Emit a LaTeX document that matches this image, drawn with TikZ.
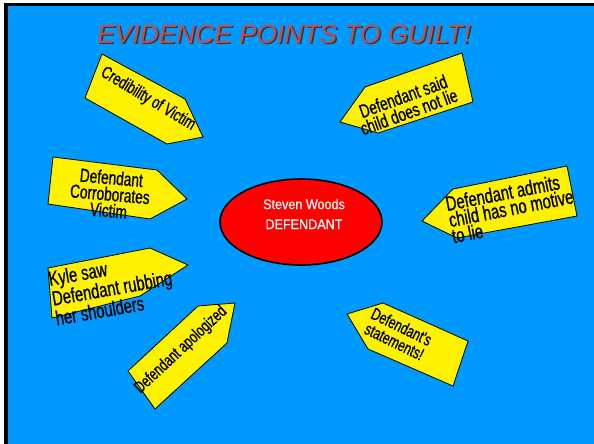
\documentclass[tikz,border=0pt]{standalone}
\usepackage{fontspec}
\setmainfont{Liberation Sans}
\newfontfamily\narrowfont[FakeStretch=0.72,FakeBold=0.8]{Liberation Sans}
\newfontfamily\ovalfont[FakeStretch=0.9,FakeBold=0.5]{Liberation Sans}
\definecolor{slideblue}{RGB}{0,153,255}
\definecolor{titlered}{RGB}{192,80,77}
\tikzset{pointer/.style={fill=yellow,draw=black,line width=0.8pt,line join=miter},
  tag/.style={font=\narrowfont\fontsize{#1}{16.5}\selectfont,inner sep=0pt,align=center},
  tag/.default=19,
  tagleft/.style={tag=#1,align=left},
  tagleft/.default=20.5,
  headline/.style={font=\itshape\fontsize{26.3}{30}\selectfont,inner sep=0pt}}

\begin{document}
\begin{tikzpicture}[x=1pt,y=-1pt]
  \useasboundingbox (0,0) rectangle (594,444);
  \fill[white] (0,0) rectangle (594,444);
  \fill[slideblue] (4,3) rectangle (594,444);
  \draw[black,line width=4pt] (6,444) -- (6,4.5);
  \draw[black,line width=3pt] (4,4.5) -- (594,4.5);

  % title with its shadow
  \node[headline,text=black!80] (shadow) at (285.5,35.5) {EVIDENCE POINTS TO GUILT!};
  \node[headline,text=titlered] (title) at (284,34) {EVIDENCE POINTS TO GUILT!};

  % the defendant
  \draw[fill=red,draw=black,line width=1.6pt] (301,222) ellipse (81 and 43);
  \node[font=\ovalfont\fontsize{14}{20}\selectfont,text=white,align=center,inner sep=0pt] (defendant) at (304,214) {Steven Woods\\DEFENDANT};

  % the pointers
  \draw[pointer] (102,54) -- (185,99) -- (203,137) -- (167,144) -- (85,98) -- cycle;
  \node[tag=17.5,rotate=-31] (credibility) at (148,99) {Credibility of Victim};

  \draw[pointer] (462,53) -- (473,102) -- (378,133) -- (340,122) -- (365,87) -- cycle;
  \node[tag,rotate=20] (childlie) at (406,104) {Defendant said\\child does not lie};

  \draw[pointer] (53,157) -- (157,170) -- (187,199) -- (150,219) -- (48,204) -- cycle;
  \node[tag,rotate=-5] (corroborates) at (110,194) {Defendant\\Corroborates\\Victim};

  \draw[pointer] (48,268) -- (150,248) -- (188,265) -- (140,296) -- (52,318) -- cycle;
  \node[tagleft,rotate=10] (kyle) at (112,288) {Kyle saw\\Defendant rubbing\\her shoulders};

  \draw[pointer] (567,166) -- (577,216) -- (457,238) -- (422,221) -- (453,189) -- cycle;
  \node[tagleft,rotate=11] (motive) at (511,208) {Defendant admits\\child has no motive\\to lie};

  \draw[pointer] (235,303) -- (227,343) -- (155,409) -- (128,371) -- (198,306) -- cycle;
  \node[tag=17,rotate=43] (apologized) at (181,350) {Defendant apologized};

  \draw[pointer] (383,303) -- (468,341) -- (453,386) -- (368,349) -- (347,314) -- cycle;
  \node[tag=17,rotate=-26] (statements) at (398,334) {Defendant's\\statements!};
\end{tikzpicture}
\end{document}
